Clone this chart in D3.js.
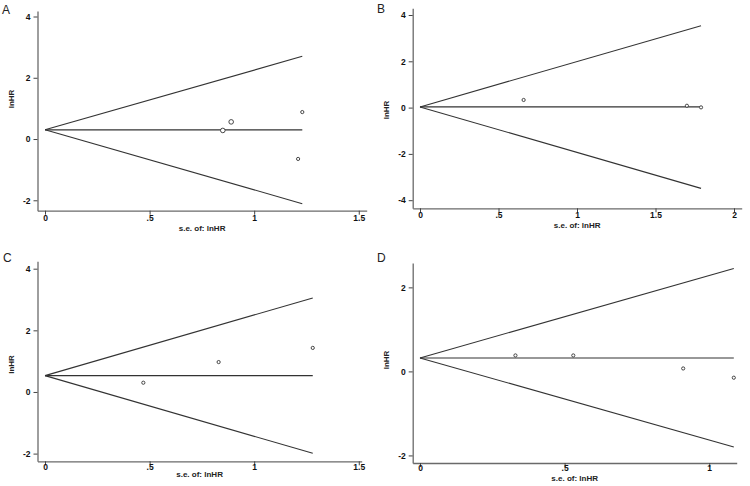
<!DOCTYPE html>
<html><head><meta charset="utf-8">
<script src="https://cdn.jsdelivr.net/npm/d3@7"></script>
<style>
html,body{margin:0;padding:0;background:#fff;}
svg{display:block;font-family:"Liberation Sans",Arial,sans-serif;}
</style></head>
<body><svg id="c" width="750" height="486"></svg>
<script>
// ---- data ----
const panelLabels = ["A", "B", "C", "D"];
const seA = [0.85, 0.89, 1.23, 1.21];
const lnhrA = [0.28, 0.56, 0.88, -0.65];
const sizeA = [2.3, 2.3, 1.6, 1.6];
const seB = [0.66, 1.70, 1.79];
const lnhrB = [0.33, 0.08, 0.01];
const sizeB = [1.6, 1.6, 1.6];
const seC = [0.47, 0.83, 1.28];
const lnhrC = [0.30, 0.97, 1.43];
const sizeC = [1.6, 1.6, 1.6];
const seD = [0.33, 0.53, 0.91, 1.085];
const lnhrD = [0.38, 0.38, 0.07, -0.15];
const sizeD = [1.6, 1.6, 1.6, 1.6];
const pooled = [0.30, 0.03, 0.53, 0.32];
const funnelMaxSE = [1.23, 1.79, 1.28, 1.085];
const funnelUpper = [2.70, 3.54, 3.05, 2.45];
const funnelLower = [-2.11, -3.49, -1.99, -1.80];
const xTicksA = [0, 0.5, 1, 1.5];
const xTicksB = [0, 0.5, 1, 1.5, 2];
const xTicksC = [0, 0.5, 1, 1.5];
const xTicksD = [0, 0.5, 1];
const yTicksA = [-2, 0, 2, 4];
const yTicksB = [-4, -2, 0, 2, 4];
const yTicksC = [-2, 0, 2, 4];
const yTicksD = [-2, 0, 2];
const xTitle = "s.e. of: lnHR";
const yTitle = "lnHR";

// ---- layout ----
const layout = [
  {x0:37.5, x1:366.7, y0:11, y1:210.7, xd:[-0.036,1.538], yd:[-2.34,4.18], tickPad:0, titleOff:20, yty:99, lx:2, ly:14},
  {x0:412.7, x1:741.7, y0:8.3, y1:208.3, xd:[-0.0465,2.049], yd:[-4.35,4.29], tickPad:0, titleOff:20, yty:110, lx:377, ly:13},
  {x0:37.5, x1:361.7, y0:261.3, y1:461.3, xd:[-0.036,1.514], yd:[-2.25,4.24], tickPad:-1.5, titleOff:15.5, yty:364.5, lx:3, ly:262},
  {x0:412.7, x1:736.7, y0:263, y1:463, xd:[-0.0252,1.095], yd:[-2.18,2.58], tickPad:-2, titleOff:17.5, yty:360, lx:377, ly:262}
];
const panels = [
  {se:seA, y:lnhrA, s:sizeA, xt:xTicksA, yt:yTicksA},
  {se:seB, y:lnhrB, s:sizeB, xt:xTicksB, yt:yTicksB},
  {se:seC, y:lnhrC, s:sizeC, xt:xTicksC, yt:yTicksC},
  {se:seD, y:lnhrD, s:sizeD, xt:xTicksD, yt:yTicksD}
];
const fmt = v => v === 0 ? "0" : (Math.abs(v) < 1 ? String(v).replace("0.", ".") : String(v));

const svg = d3.select("#c");
panels.forEach((p, i) => {
  const L = layout[i];
  const x = d3.scaleLinear().domain(L.xd).range([L.x0, L.x1]);
  const y = d3.scaleLinear().domain(L.yd).range([L.y1, L.y0]);
  const g = svg.append("g");

  // axes
  const ax = g.append("g").attr("transform", `translate(0,${L.y1})`)
    .call(d3.axisBottom(x).tickValues(p.xt).tickFormat(fmt).tickSize(4).tickSizeOuter(0).tickPadding(L.tickPad));
  const ay = g.append("g").attr("transform", `translate(${L.x0},0)`)
    .call(d3.axisLeft(y).tickValues(p.yt).tickFormat(fmt).tickSize(4).tickSizeOuter(0).tickPadding(3));
  [ax, ay].forEach(a => {
    a.select(".domain").attr("stroke", "#6a6a6a").attr("stroke-width", 1.3);
    a.selectAll(".tick line").attr("stroke", "#444").attr("stroke-width", 1);
    a.selectAll(".tick text").attr("fill", "#111").attr("font-size", 8.5).attr("font-weight", "bold");
  });

  // titles
  g.append("text").attr("x", (L.x0 + L.x1) / 2).attr("y", L.y1 + L.titleOff)
    .attr("text-anchor", "middle").attr("font-size", 8).attr("font-weight", "bold").attr("fill", "#222").text(xTitle);
  g.append("text").attr("transform", `translate(${L.x0 - 24},${L.yty}) rotate(-90)`)
    .attr("text-anchor", "middle").attr("font-size", 8).attr("font-weight", "bold").attr("fill", "#222").text(yTitle);
  g.append("text").attr("x", L.lx).attr("y", L.ly).attr("font-size", 12).attr("fill", "#222").text(panelLabels[i]);

  // funnel lines
  const line = d3.line().x(d => x(d[0])).y(d => y(d[1]));
  const funnel = [
    [[0, pooled[i]], [funnelMaxSE[i], funnelUpper[i]]],
    [[0, pooled[i]], [funnelMaxSE[i], funnelLower[i]]],
    [[0, pooled[i]], [funnelMaxSE[i], pooled[i]]]
  ];
  g.selectAll("path.f").data(funnel).join("path").attr("class", "f")
    .attr("d", line).attr("fill", "none").attr("stroke", "#333").attr("stroke-width", 1.1);

  // points
  g.selectAll("circle.pt").data(p.se.map((s, k) => ({s, v: p.y[k], r: p.s[k]}))).join("circle")
    .attr("class", "pt").attr("cx", d => x(d.s)).attr("cy", d => y(d.v)).attr("r", d => d.r)
    .attr("fill", "#fff").attr("stroke", "#333").attr("stroke-width", 0.9);
});
</script>
</body></html>
